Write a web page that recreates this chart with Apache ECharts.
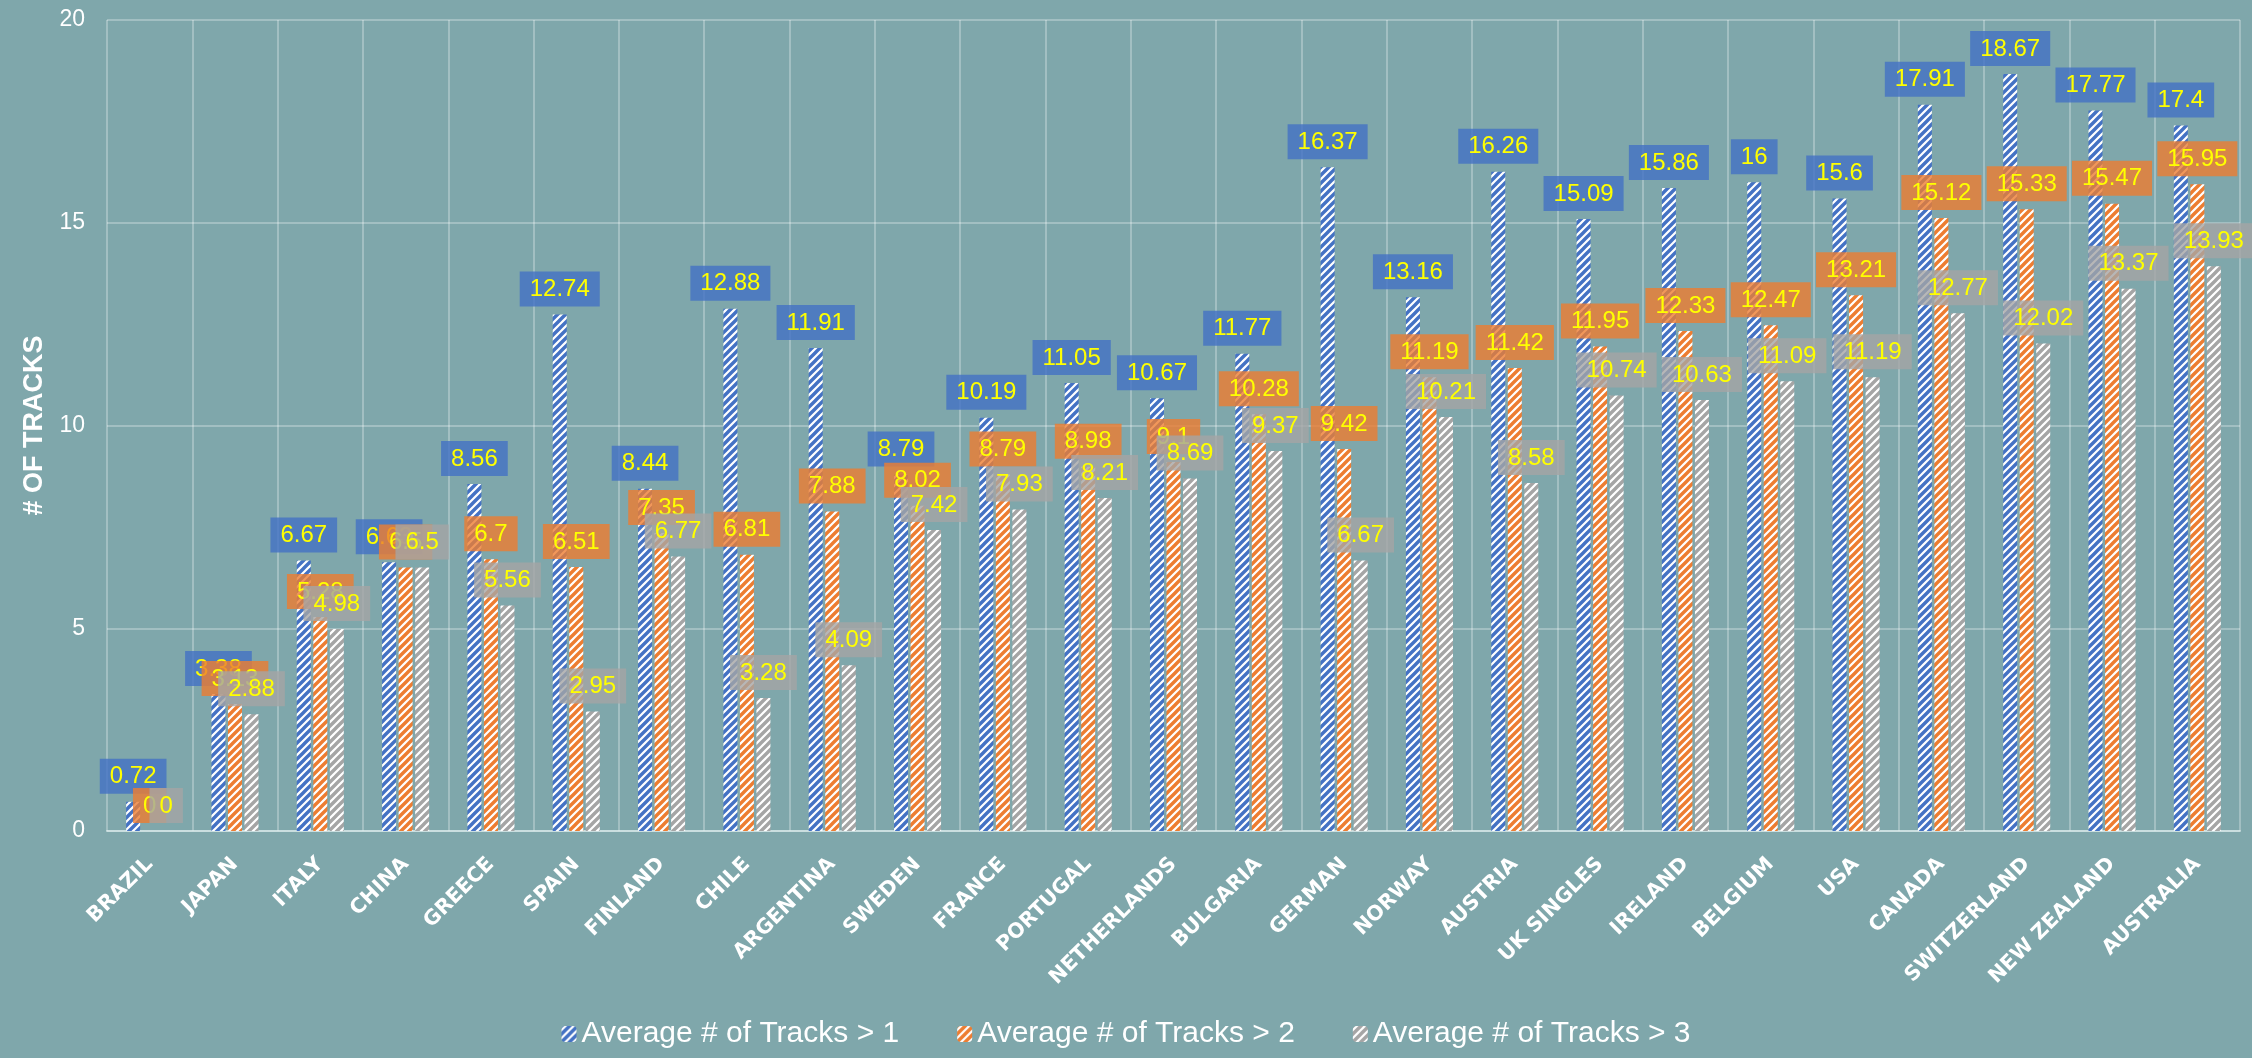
<!DOCTYPE html>
<html>
<head>
<meta charset="utf-8">
<script src="https://cdn.jsdelivr.net/npm/echarts@6/dist/echarts.min.js"></script>
<style>
html,body{margin:0;padding:0;background:#7fa7ab;}
#chart{width:2252px;height:1058px;}
</style>
</head>
<body>
<div id="chart"></div>
<script>
const categories = ["BRAZIL","JAPAN","ITALY","CHINA","GREECE","SPAIN","FINLAND","CHILE","ARGENTINA","SWEDEN","FRANCE","PORTUGAL","NETHERLANDS","BULGARIA","GERMAN","NORWAY","AUSTRIA","UK SINGLES","IRELAND","BELGIUM","USA","CANADA","SWITZERLAND","NEW ZEALAND","AUSTRALIA"];
const seriesNames = ["Average # of Tracks > 1","Average # of Tracks > 2","Average # of Tracks > 3"];
const tracks1 = [0.72,3.38,6.67,6.63,8.56,12.74,8.44,12.88,11.91,8.79,10.19,11.05,10.67,11.77,16.37,13.16,16.26,15.09,15.86,16,15.6,17.91,18.67,17.77,17.4];
const tracks2 = [0,3.13,5.28,6.5,6.7,6.51,7.35,6.81,7.88,8.02,8.79,8.98,9.1,10.28,9.42,11.19,11.42,11.95,12.33,12.47,13.21,15.12,15.33,15.47,15.95];
const tracks3 = [0,2.88,4.98,6.5,5.56,2.95,6.77,3.28,4.09,7.42,7.93,8.21,8.69,9.37,6.67,10.21,8.58,10.74,10.63,11.09,11.19,12.77,12.02,13.37,13.93];
const yTicks = [0,5,10,15,20];

function stripe(color){
  const c = document.createElement('canvas');
  c.width = 8; c.height = 8;
  const g = c.getContext('2d');
  g.fillStyle = '#ffffff';
  g.fillRect(0,0,8,8);
  g.strokeStyle = color;
  g.lineWidth = 3.4;
  g.beginPath();
  g.moveTo(-2,10); g.lineTo(10,-2);
  g.moveTo(-6,6); g.lineTo(6,-6);
  g.moveTo(2,14); g.lineTo(14,2);
  g.stroke();
  return {image: c, repeat: 'repeat'};
}

const barColors = ['#4472c4','#ed7d31','#a5a5a5'];
const labelBg = ['rgba(68,114,196,0.8)','rgba(237,125,49,0.8)','rgba(165,165,165,0.8)'];
const allData = [tracks1, tracks2, tracks3];

const chart = echarts.init(document.getElementById('chart'), null, {renderer:'canvas'});
chart.setOption({
  backgroundColor: '#7fa7ab',
  animation: false,
  grid: {left:107, right:12, top:20, bottom:227, containLabel:false},
  legend: {
    bottom: 4,
    left: 'center',
    itemWidth: 15,
    itemHeight: 16,
    itemGap: 58,
    textStyle: {color:'#ffffff', fontSize:30, fontFamily:'Liberation Sans'},
    data: seriesNames
  },
  xAxis: {
    type: 'category',
    data: categories,
    axisLine: {show:true, lineStyle:{color:'rgba(220,235,235,0.7)', width:2}},
    axisTick: {show:false},
    splitLine: {show:true, lineStyle:{color:'rgba(255,255,255,0.28)', width:2}},
    axisLabel: {
      rotate: 45,
      interval: 0,
      margin: 30,
      color: '#ffffff',
      fontWeight: 'bold',
      fontSize: 20.5,
      fontFamily: 'DejaVu Sans'
    }
  },
  yAxis: {
    type: 'value',
    min: 0, max: 20, interval: 5,
    name: '# OF TRACKS',
    nameLocation: 'middle',
    nameGap: 56,
    nameTextStyle: {color:'#ffffff', fontSize:27, fontWeight:'bold', fontFamily:'Liberation Sans'},
    axisLine: {show:false},
    axisTick: {show:false},
    splitLine: {show:true, lineStyle:{color:'rgba(255,255,255,0.28)', width:2}},
    axisLabel: {
      color:'#ffffff', fontSize:23, margin:22, fontFamily:'Liberation Sans',
      formatter: function(v){ return yTicks.indexOf(v) >= 0 ? String(v) : ''; }
    }
  },
  series: allData.map(function(d, i){
    return {
      name: seriesNames[i],
      type: 'bar',
      data: d,
      barWidth: 14,
      barGap: '18%',
      itemStyle: {color: stripe(barColors[i])},
      label: {
        show: true,
        position: 'top',
        distance: 8,
        color: '#ffff00',
        fontSize: 24,
        lineHeight: 24,
        fontFamily: 'Liberation Sans',
        backgroundColor: labelBg[i],
        padding: [6, 10, 5, 10]
      }
    };
  })
});
</script>
</body>
</html>
